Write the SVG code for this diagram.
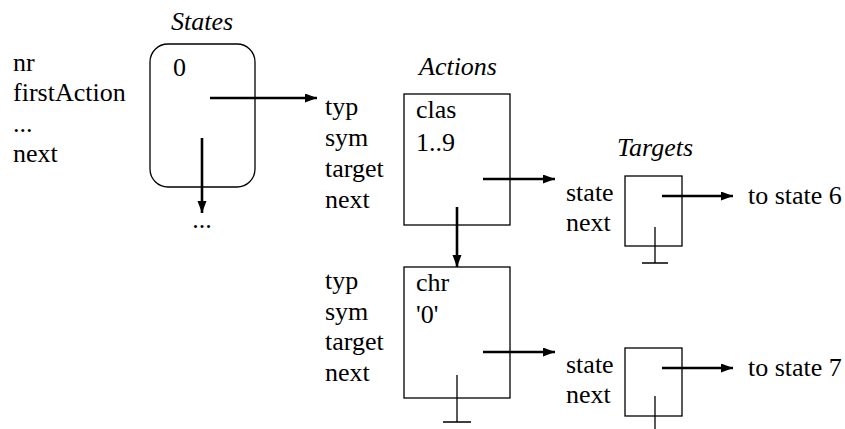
<svg xmlns="http://www.w3.org/2000/svg" width="845" height="429" viewBox="0 0 845 429">
<style>
text{font-family:'Liberation Serif','Times New Roman',Times,'DejaVu Serif',serif;font-size:26px;fill:#000}
.t{font-style:italic;text-anchor:middle}
.box{fill:none;stroke:#000;stroke-width:1.3}
.arr{fill:none;stroke:#000;stroke-width:2.6;marker-end:url(#ah)}
.nil{fill:none;stroke:#000;stroke-width:1.3}
</style>
<defs>
<marker id="ah" markerUnits="userSpaceOnUse" markerWidth="13" markerHeight="10" refX="12" refY="4.5" orient="auto">
<path d="M0,0 L12,4.5 L0,9 z" fill="#000"/>
</marker>
</defs>
<rect width="845" height="429" fill="#fff"/>
<g font-family="Liberation Serif, Times New Roman, serif">
<g id="state-labels">
<text x="13" y="71">nr</text>
<text x="13" y="101">firstAction</text>
<text x="13" y="132">...</text>
<text x="13" y="162">next</text>
</g>
<g id="state0">
<text class="t" x="202" y="30">States</text>
<rect class="box" x="150" y="44" width="105" height="143" rx="18" ry="18"/>
<text x="173" y="76">0</text>
<text x="202" y="228" text-anchor="middle">...</text>
</g>
<g id="action1">
<text class="t" x="458" y="75">Actions</text>
<text x="325" y="115">typ</text>
<text x="325" y="146">sym</text>
<text x="325" y="177">target</text>
<text x="325" y="208">next</text>
<rect class="box" x="404" y="94" width="106" height="131"/>
<text x="416" y="118">clas</text>
<text x="416" y="151">1..9</text>
</g>
<g id="action2">
<text x="325" y="289">typ</text>
<text x="325" y="320">sym</text>
<text x="325" y="350">target</text>
<text x="325" y="381">next</text>
<rect class="box" x="404" y="267" width="106" height="131"/>
<text x="416" y="291">chr</text>
<text x="416" y="323">'0'</text>
</g>
<g id="target1">
<text class="t" x="655" y="156">Targets</text>
<text x="566" y="201">state</text>
<text x="566" y="231">next</text>
<rect class="box" x="625" y="176" width="57" height="70"/>
<text x="748" y="204">to state 6</text>
</g>
<g id="target2">
<text x="566" y="373">state</text>
<text x="566" y="403">next</text>
<rect class="box" x="625" y="348" width="57" height="68"/>
<text x="748" y="376">to state 7</text>
</g>
</g>
<g id="connectors">
<line class="arr" x1="210" y1="98" x2="317" y2="98"/>
<line class="arr" x1="202" y1="138" x2="202" y2="213"/>
<line class="arr" x1="483" y1="179" x2="555" y2="179"/>
<line class="arr" x1="457" y1="207" x2="457" y2="267"/>
<line class="arr" x1="483" y1="352" x2="555" y2="352"/>
<line class="arr" x1="662" y1="196" x2="733" y2="196"/>
<line class="arr" x1="662" y1="368" x2="733" y2="368"/>
<path class="nil" d="M457,375 V422 M443,422 H471"/>
<path class="nil" d="M655,227 V263 M642,263 H668"/>
<path class="nil" d="M655,396 V430"/>
</g>
</svg>
